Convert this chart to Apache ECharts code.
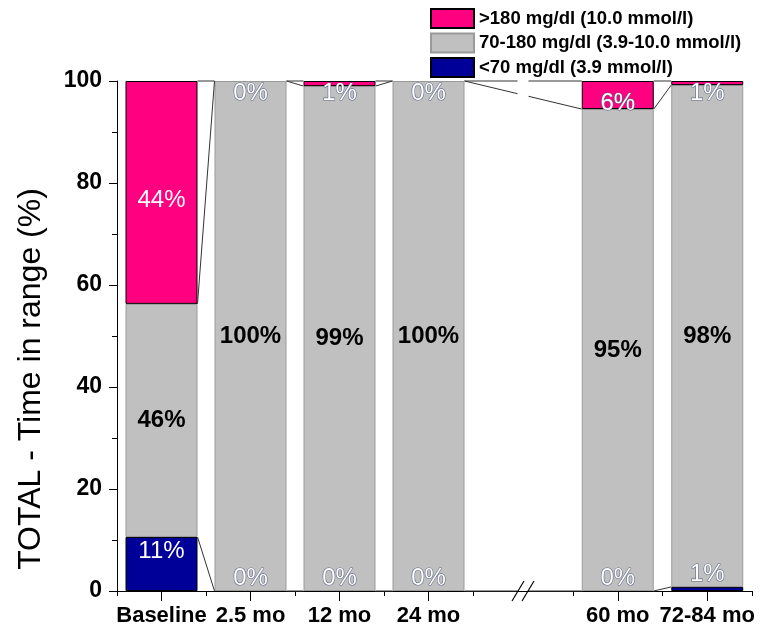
<!DOCTYPE html>
<html>
<head>
<meta charset="utf-8">
<title>TOTAL - Time in range</title>
<script src="https://cdn.jsdelivr.net/npm/echarts@6.0.0/dist/echarts.min.js"></script>
<style>
  html, body { margin: 0; padding: 0; background: #fff; }
  #chart { width: 761px; height: 633px; }
</style>
</head>
<body>
<div id="chart"></div>
<script>
// Visits, in order; the axis is broken after the first four.
const categories = ['Baseline', '2.5 mo', '12 mo', '24 mo', '60 mo', '72-84 mo'];
const breakAfter = 4;

// Share of time (%) in each glucose band per visit.
const below70 = [10.6, 0, 0, 0, 0, 0.8];
const inRange = [45.7, 100, 99, 100, 94.5, 98.4];
const above180 = [43.7, 0, 1, 0, 5.5, 0.8];

const bandNames = {
  high: '>180 mg/dl (10.0 mmol/l)',
  mid: '70-180 mg/dl (3.9-10.0 mmol/l)',
  low: '<70 mg/dl (3.9 mmol/l)'
};

const yTicks = { min: 0, max: 100, step: 20 };

// ---- layout and styling ----
const FONT = '"Liberation Sans", Arial, Helvetica, sans-serif';
const PINK = '#ff0080', GRAY = '#c0c0c0', BLUE = '#000099';
const TOP = 81, PLOT_H = 510, LEFT = 117;
const EARLY_W = 356, GAP_W = 100, LATE_W = 179;
const BAR_W = 72;

const whiteText = { color: '#fff', fontSize: 24, fontFamily: FONT };
const outlinedText = { color: '#fff', fontSize: 24, fontFamily: FONT,
  textBorderColor: '#5d6885', textBorderWidth: 1.2 };
const boldText = { color: '#000', fontSize: 24, fontWeight: 'bold', fontFamily: FONT };

const pct = p => Math.round(p.value) + '%';
const flat = v => (v === 0 ? { itemStyle: { borderWidth: 0 } } : {});

function lowItem(v) {
  const label = v >= 3
    ? Object.assign({ position: 'insideTop', distance: 2 }, whiteText)
    : Object.assign({ position: 'top', distance: 1 }, outlinedText);
  return Object.assign({ value: v, label }, flat(v));
}
function midItem(v) {
  return Object.assign({ value: v, label: Object.assign({ position: 'inside' }, boldText) }, flat(v));
}
function highItem(v) {
  let label;
  if (v >= 10) label = Object.assign({ position: 'inside', offset: [0, 8] }, whiteText);
  else if (v >= 3) label = Object.assign({ position: 'inside', offset: [0, 8] }, outlinedText);
  else label = Object.assign({ position: 'insideTop', distance: 0 }, outlinedText);
  return Object.assign({ value: v, label }, flat(v));
}

function barSeries(part, xAxisIndex, yAxisIndex) {
  const from = part === 0 ? 0 : breakAfter;
  const to = part === 0 ? breakAfter : categories.length;
  const common = { type: 'bar', stack: 'band' + part, barWidth: BAR_W, xAxisIndex, yAxisIndex,
    label: { show: true, formatter: pct }, emphasis: { disabled: true } };
  return [
    Object.assign({ name: bandNames.low, itemStyle: { color: BLUE, borderColor: '#000', borderWidth: 1 },
      data: below70.slice(from, to).map(lowItem) }, common),
    Object.assign({ name: bandNames.mid, itemStyle: { color: GRAY, borderColor: '#9a9a9a', borderWidth: 1 },
      data: inRange.slice(from, to).map(midItem) }, common),
    Object.assign({ name: bandNames.high, itemStyle: { color: PINK, borderColor: '#000', borderWidth: 1 },
      data: above180.slice(from, to).map(highItem) }, common)
  ];
}

const axisLine = { show: true, lineStyle: { color: '#000', width: 1 } };
const catLabel = { interval: 0, fontSize: 22, fontWeight: 'bold', color: '#000', fontFamily: FONT, margin: 14 };

function categoryAxes(gridIndex, data) {
  return [
    { type: 'category', gridIndex, position: 'bottom', data,
      axisLine, axisLabel: catLabel,
      axisTick: { show: true, interval: 0, alignWithLabel: true, length: 10, lineStyle: { color: '#000' } } },
    { type: 'category', gridIndex, position: 'bottom', data,
      axisLine: { show: false }, axisLabel: { show: false },
      axisTick: { show: true, interval: 0, alignWithLabel: false, length: 5, lineStyle: { color: '#000' } } }
  ];
}

const hiddenY = gridIndex => ({ type: 'value', gridIndex, min: yTicks.min, max: yTicks.max,
  show: false, splitLine: { show: false } });

const option = {
  animation: false,
  backgroundColor: '#fff',
  textStyle: { fontFamily: FONT },
  legend: {
    orient: 'vertical', left: 430, top: 8, padding: 0,
    itemWidth: 43, itemHeight: 19, itemGap: 3.5, icon: 'rect',
    selectedMode: false,
    data: [bandNames.high, bandNames.mid, bandNames.low],
    textStyle: { fontSize: 18.5, fontWeight: 'bold', color: '#000', fontFamily: FONT }
  },
  grid: [
    { left: LEFT, top: TOP, width: EARLY_W, height: PLOT_H, outerBoundsMode: 'none' },
    { left: LEFT + EARLY_W + GAP_W, top: TOP, width: LATE_W, height: PLOT_H, outerBoundsMode: 'none' },
    { left: LEFT + EARLY_W, top: TOP, width: GAP_W, height: PLOT_H, outerBoundsMode: 'none' }
  ],
  xAxis: [
    ...categoryAxes(0, categories.slice(0, breakAfter)),
    ...categoryAxes(1, categories.slice(breakAfter)),
    { type: 'category', gridIndex: 2, position: 'bottom', data: [''],
      axisLine, axisTick: { show: false }, axisLabel: { show: false } }
  ],
  yAxis: [
    { type: 'value', gridIndex: 0, min: yTicks.min, max: yTicks.max, interval: yTicks.step,
      name: 'TOTAL - Time in range (%)', nameLocation: 'middle', nameGap: 70,
      nameTextStyle: { fontSize: 32, color: '#000', fontFamily: FONT, padding: [0, 86, 0, 0] },
      axisLine,
      axisTick: { show: true, length: 8, lineStyle: { color: '#000' } },
      minorTick: { show: true, splitNumber: 2, length: 5, lineStyle: { color: '#000' } },
      axisLabel: { fontSize: 23, fontWeight: 'bold', color: '#000', fontFamily: FONT, margin: 15 },
      splitLine: { show: false }, minorSplitLine: { show: false } },
    hiddenY(1),
    hiddenY(2)
  ],
  series: [
    ...barSeries(0, 0, 0),
    ...barSeries(1, 2, 1)
  ]
};

const chart = echarts.init(document.getElementById('chart'), null, { renderer: 'canvas' });
chart.setOption(option);

// Connector lines between neighbouring bars at each stacked boundary,
// plus the break marks on the category axis.
function pixel(i, v) {
  const late = i >= breakAfter;
  return chart.convertToPixel({ seriesIndex: late ? 3 : 0 }, [late ? i - breakAfter : i, v]);
}
const levels = categories.map((_, i) => [
  below70[i],
  below70[i] + inRange[i],
  below70[i] + inRange[i] + above180[i]
]);

const breakX = LEFT + EARLY_W + GAP_W / 2;
const breakHalfGap = 5.5;
const lineStyle = { stroke: '#333', lineWidth: 1 };
const graphics = [];
const seg = (x1, y1, x2, y2, style) => graphics.push({ type: 'line', silent: true, z: 50,
  shape: { x1, y1, x2, y2 }, style: style || lineStyle });

for (let i = 0; i < categories.length - 1; i++) {
  for (let k = 0; k < 3; k++) {
    const a = pixel(i, levels[i][k]);
    const b = pixel(i + 1, levels[i + 1][k]);
    const x1 = a[0] + BAR_W / 2, y1 = a[1];
    const x2 = b[0] - BAR_W / 2, y2 = b[1];
    if (i === breakAfter - 1) {
      const yAt = x => y1 + (y2 - y1) * (x - x1) / (x2 - x1);
      const xa = breakX - breakHalfGap, xb = breakX + breakHalfGap;
      seg(x1, y1, xa, yAt(xa));
      seg(xb, yAt(xb), x2, y2);
    } else {
      seg(x1, y1, x2, y2);
    }
  }
}

const axisY = pixel(0, 0)[1];
[-5, 5].forEach(off => {
  seg(breakX + off - 6, axisY + 10, breakX + off + 6, axisY - 10, { stroke: '#000', lineWidth: 1.2 });
});

chart.setOption({ graphic: { elements: graphics } });
</script>
</body>
</html>
